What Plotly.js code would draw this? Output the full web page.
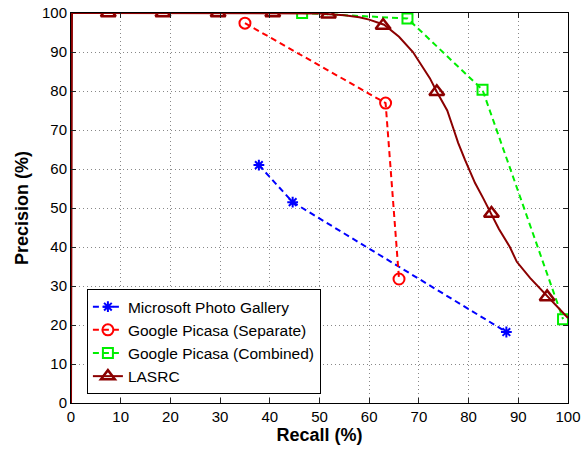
<!DOCTYPE html>
<html>
<head>
<meta charset="utf-8">
<script src="https://cdn.plot.ly/plotly-3.0.1.min.js"></script>
<style>html,body{margin:0;padding:0;background:#fff;}#chart{width:582px;height:450px;}</style>
</head>
<body>
<div id="chart"></div>
<script>
// Microsoft Photo Gallery
var msX = [37.8, 44.6, 87.6];
var msY = [61, 51.5, 18.2];
// Google Picasa (Separate)
var gsX = [35.0, 63.3, 66.0];
var gsY = [97.4, 76.9, 31.8];
// Google Picasa (Combined)
var gcX = [46.5, 67.7, 82.8, 99.0];
var gcY = [100, 98.6, 80.3, 21.5];
// LASRC curve
var lasrcX = [0, 0.2, 5, 10, 20, 30, 40, 45, 50, 52, 55, 58, 60, 63, 66, 68.8, 70.6, 72.2, 73.6, 75.7, 76.9, 77.9, 79.3, 80.3, 81.3, 82.9, 84.5, 86.1, 88.3, 89.7, 92.4, 95.4, 97.4, 99.4, 100];
var lasrcY = [0, 100, 100, 100, 100, 100, 100, 100, 99.9, 99.7, 99.4, 98.9, 98.3, 97, 93.9, 90, 86.3, 83.3, 79.8, 75, 70.5, 66.7, 62.3, 59.2, 56.4, 52.6, 48.5, 44.6, 40, 36.2, 32, 28, 25.1, 22.6, 21.8];
// LASRC markers
var lasrcMX = [7.5, 18.5, 29.6, 40.6, 51.8, 62.8, 73.6, 84.6, 95.8];
var lasrcMY = [100, 100, 100, 100, 99.7, 96.8, 79.8, 48.6, 27.2];
var names = ["Microsoft Photo Gallery", "Google Picasa (Separate)", "Google Picasa (Combined)", "LASRC"];
var dark = "#8b0000";
var dashPat = "6px,4px";

var traces = [
  {x: msX, y: msY, name: names[0], mode: "lines+markers", type: "scatter",
   line: {color: "#0000ff", width: 2, dash: dashPat},
   marker: {symbol: "asterisk-open", size: 9, color: "#0000ff", line: {color: "#0000ff", width: 2}}},
  {x: gsX, y: gsY, name: names[1], mode: "lines+markers", type: "scatter",
   line: {color: "#ff0000", width: 2, dash: dashPat},
   marker: {symbol: "circle-open", size: 11, color: "#ff0000", line: {color: "#ff0000", width: 2}}},
  {x: gcX, y: gcY, name: names[2], mode: "lines+markers", type: "scatter",
   line: {color: "#00ee00", width: 2, dash: dashPat},
   marker: {symbol: "square-open", size: 10, color: "#00ee00", line: {color: "#00ee00", width: 2}}},
  {x: lasrcX, y: lasrcY, name: names[3], mode: "lines", type: "scatter", showlegend: false,
   line: {color: dark, width: 2}},
  {x: lasrcMX, y: lasrcMY, name: names[3], mode: "markers", type: "scatter", showlegend: false,
   marker: {symbol: "triangle-up-open", size: 13, color: dark, line: {color: dark, width: 2.5}}},
  {x: [null], y: [null], name: names[3], mode: "lines+markers", type: "scatter",
   line: {color: dark, width: 2},
   marker: {symbol: "triangle-up-open", size: 12, color: dark, line: {color: dark, width: 2.5}}}
];

var fontFam = "Liberation Sans, Arial, Helvetica, sans-serif";
var axisCommon = {
  range: [0, 100], dtick: 10, tick0: 0, autorange: false,
  showline: true, linecolor: "#000", linewidth: 1, mirror: "ticks",
  ticks: "inside", ticklen: 5, tickcolor: "#222", tickwidth: 1,
  showgrid: true, gridcolor: "#888", griddash: "1px,3px", gridwidth: 1,
  zeroline: false, tickfont: {family: fontFam, size: 15, color: "#000"}
};
var layout = {
  width: 582, height: 450,
  margin: {l: 71, r: 14, t: 13, b: 47},
  paper_bgcolor: "#fff", plot_bgcolor: "#fff",
  font: {family: fontFam, color: "#000"},
  xaxis: Object.assign({}, axisCommon, {title: {text: "<b>Recall (%)</b>", font: {family: fontFam, size: 18}, standoff: 4}}),
  yaxis: Object.assign({}, axisCommon, {title: {text: "<b>Precision (%)</b>", font: {family: fontFam, size: 18}, standoff: 8}}),
  legend: {x: 0.032, y: 0.292, xanchor: "left", yanchor: "top",
    bgcolor: "#fff", bordercolor: "#000", borderwidth: 1,
    font: {family: fontFam, size: 15.5, color: "#000"}, tracegroupgap: 0, itemwidth: 30},
  showlegend: true
};
Plotly.newPlot("chart", traces, layout, {displayModeBar: false, staticPlot: true});
</script>
</body>
</html>
